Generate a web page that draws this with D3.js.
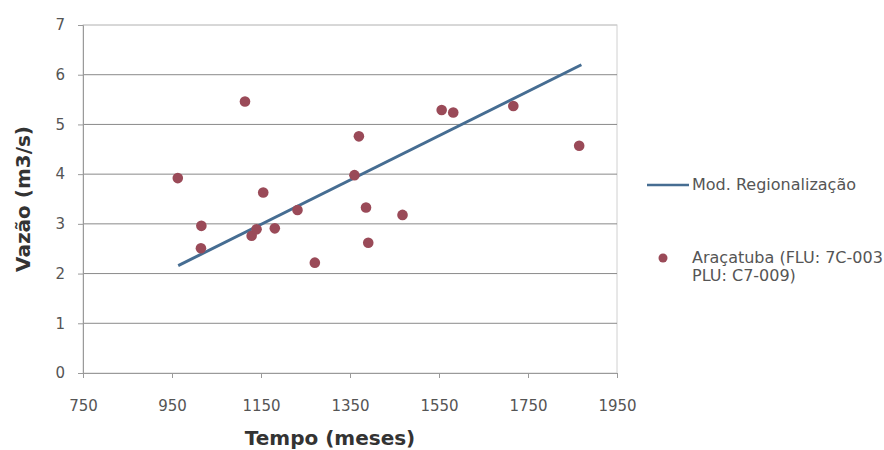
<!DOCTYPE html>
<html>
<head>
<meta charset="utf-8">
<script src="https://cdn.jsdelivr.net/npm/d3@7"></script>
<style>
  body { margin: 0; background: #fff; }
  text { font-family: "DejaVu Sans", sans-serif; }
</style>
</head>
<body>
<div id="chart"></div>
<script>
// --- データ ---
const tempo = [963, 1114, 1016, 1015, 1155, 1129, 1140, 1181, 1232, 1271,
               1370, 1360, 1386, 1391, 1468, 1556, 1582, 1717, 1865];
const vazao = [3.92, 5.46, 2.96, 2.51, 3.63, 2.76, 2.89, 2.91, 3.28, 2.22,
               4.76, 3.98, 3.33, 2.62, 3.18, 5.29, 5.24, 5.37, 4.57];
const modeloX = [964, 1870];
const modeloY = [2.16, 6.20];
const xTicks = [750, 950, 1150, 1350, 1550, 1750, 1950];
const yTicks = [0, 1, 2, 3, 4, 5, 6, 7];
const seriesNames = ["Mod. Regionalização", "Araçatuba (FLU: 7C-003", "PLU: C7-009)"];

const width = 884, height = 450;
const margin = { top: 25, right: 267, bottom: 77, left: 83 };

const svg = d3.select("#chart").append("svg")
    .attr("width", width)
    .attr("height", height);

const x = d3.scaleLinear().domain([750, 1950]).range([margin.left, width - margin.right]);
const y = d3.scaleLinear().domain([0, 7]).range([height - margin.bottom, margin.top]);

// 枠
svg.append("rect")
    .attr("x", x(750)).attr("y", y(7))
    .attr("width", x(1950) - x(750)).attr("height", y(0) - y(7))
    .attr("fill", "none").attr("stroke", "#d0d0d0");

// グリッド線
svg.append("g")
    .selectAll("line")
    .data(yTicks.filter(d => d > 0))
    .enter().append("line")
    .attr("x1", x(750)).attr("x2", x(1950))
    .attr("y1", d => y(d)).attr("y2", d => y(d))
    .attr("stroke", d => d === 7 ? "#c8c8c8" : "#8a8a8a")
    .attr("stroke-width", 1);

// 軸
const xAxis = d3.axisBottom(x).tickValues(xTicks).tickFormat(d3.format("d")).tickSize(5).tickPadding(22);
const yAxis = d3.axisLeft(y).tickValues(yTicks).tickFormat(d3.format("d")).tickSize(5).tickPadding(13);

const gx = svg.append("g").attr("transform", `translate(0,${y(0)})`).call(xAxis);
const gy = svg.append("g").attr("transform", `translate(${x(750)},0)`).call(yAxis);
[gx, gy].forEach(g => {
    g.select(".domain").attr("stroke", "#9a9a9a");
    g.selectAll(".tick line").attr("stroke", "#9a9a9a");
    g.selectAll(".tick text").attr("fill", "#555")
        .style("font-family", "DejaVu Sans").style("font-size", "15px");
});

// 回帰線
const line = d3.line().x(d => x(d[0])).y(d => y(d[1]));
svg.append("path")
    .datum(d3.zip(modeloX, modeloY))
    .attr("d", line)
    .attr("fill", "none")
    .attr("stroke", "#466d92")
    .attr("stroke-width", 3);

// 観測点
svg.append("g")
    .selectAll("circle")
    .data(d3.zip(tempo, vazao))
    .enter().append("circle")
    .attr("cx", d => x(d[0]))
    .attr("cy", d => y(d[1]))
    .attr("r", 5.3)
    .attr("fill", "#9a4a58");

// 軸タイトル
svg.append("text")
    .attr("transform", `translate(24,${(y(0) + y(7)) / 2}) rotate(-90)`)
    .attr("text-anchor", "middle")
    .attr("dominant-baseline", "middle")
    .style("font-size", "20px").style("font-weight", "bold")
    .attr("fill", "#333")
    .text("Vazão (m3/s)");

svg.append("text")
    .attr("x", (x(750) + x(1950)) / 2 - 20)
    .attr("y", 439)
    .attr("text-anchor", "middle")
    .attr("dominant-baseline", "middle")
    .style("font-size", "20px").style("font-weight", "bold")
    .attr("fill", "#333")
    .text("Tempo (meses)");

// 凡例
const legend = svg.append("g").style("font-family", "Open Sans").style("font-size", "16px");
legend.append("line")
    .attr("x1", 647).attr("x2", 689).attr("y1", 185).attr("y2", 185)
    .attr("stroke", "#466d92").attr("stroke-width", 2.5);
legend.append("text")
    .attr("x", 692).attr("y", 185).attr("dominant-baseline", "middle")
    .attr("fill", "#555")
    .text(seriesNames[0]);
legend.append("circle")
    .attr("cx", 663).attr("cy", 258).attr("r", 4.5).attr("fill", "#9a4a58");
legend.append("text")
    .attr("x", 692).attr("y", 258).attr("dominant-baseline", "middle")
    .attr("fill", "#555")
    .text(seriesNames[1]);
legend.append("text")
    .attr("x", 692).attr("y", 276).attr("dominant-baseline", "middle")
    .attr("fill", "#555")
    .text(seriesNames[2]);
</script>
</body>
</html>
